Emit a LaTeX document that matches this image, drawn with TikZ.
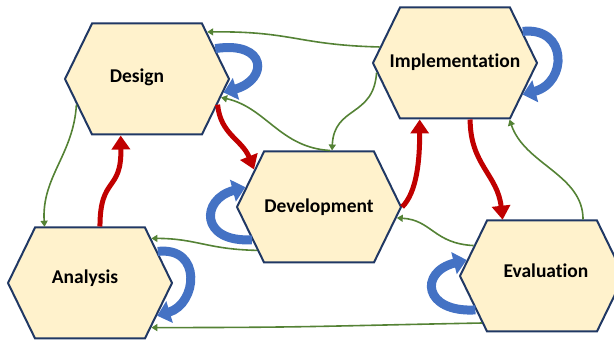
\documentclass[tikz,border=0pt]{standalone}
\usepackage{fontspec}
\setmainfont{Carlito}[Ligatures=NoCommon]
\usetikzlibrary{arrows.meta, shapes.symbols}

\definecolor{stagefill}{HTML}{FFF2CC}
\definecolor{stageborder}{HTML}{203864}
\definecolor{flowred}{HTML}{C00000}
\definecolor{feedgreen}{HTML}{548235}
\definecolor{loopblue}{HTML}{4472C4}

\begin{document}
\begin{tikzpicture}[x=1pt, y=1pt,
  stage/.style={signal, signal to=west and east, signal pointer angle=128,
    draw=stageborder, fill=stagefill, line width=2pt,
    minimum width=164pt, minimum height=111pt},
  stagename/.style={font=\bfseries\fontsize{19.5}{23}\selectfont, inner sep=0pt},
  flow/.style={line width=5pt, draw=flowred, -{Triangle[length=14pt, width=18pt]}},
  feedback/.style={line width=1.6pt, draw=feedgreen, -{Triangle[length=6pt, width=7pt]}},
  iterate/.style={line width=9pt, draw=loopblue, -{Triangle[length=13pt, width=22pt]}}
  ]
  \useasboundingbox (0,0) rectangle (614,342);

  % Stages
  \node[stage, label={[stagename, xshift=-10pt, yshift=2pt]center:Design}] (design) at (147,263) {};
  \node[stage, label={[stagename, yshift=1pt]center:Implementation}] (implementation) at (455,279) {};
  \node[stage, label={[stagename]center:Development}] (development) at (319,135) {};
  \node[stage, label={[stagename, xshift=-5pt, yshift=5pt]center:Analysis}] (analysis) at (90,59) {};
  \node[stage, label={[stagename, xshift=4pt, yshift=5pt]center:Evaluation}] (evaluation) at (542,66) {};

  % Main cycle
  \draw[flow] (analysis.80) .. controls +(0,51) and +(1,-57) .. (design.245);
  \draw[flow] (design.-20) .. controls +(3,-30) and +(-12,30) .. (development.150);
  \draw[flow] (development.east) .. controls +(15,15) and +(0,-40) .. (implementation.238);
  \draw[flow] (implementation.-75) .. controls +(0,-45) and +(-5,45) .. (evaluation.125);

  % Feedback paths
  \draw[feedback] (implementation.168) .. controls +(-82,2) and +(85,1) .. (design.38);
  \draw[feedback] (implementation.187) .. controls +(-3,-45) and +(2,45) .. (development.77);
  \draw[feedback] (development.79) .. controls +(-50,3) and +(45,-10) .. (design.-14);
  \draw[feedback] (design.200) .. controls +(-3,-50) and +(-3,50) .. (analysis.129);
  \draw[feedback] (development.215) .. controls +(-50,1) and +(45,0) .. (analysis.36);
  \draw[feedback] (evaluation.156) .. controls +(-40,2) and +(35,-2) .. (development.-8);
  \draw[feedback] (evaluation.54) .. controls +(0,45) and +(15,-45) .. (implementation.-46);
  \draw[feedback] (evaluation.218) .. controls +(-160,-3) and +(160,0) .. (analysis.-36);

  % Self iterations
  \draw[iterate] (design.24) .. controls +(52,8) and +(45,13) .. (design.-10);
  \draw[iterate] (implementation.25) .. controls +(45,5) and +(45,12) .. (implementation.-25);
  \draw[iterate] (development.206) .. controls +(-52,-3) and +(-45,-12) .. (development.165);
  \draw[iterate] (analysis.25) .. controls +(45,5) and +(40,12) .. (analysis.-26);
  \draw[iterate] (evaluation.207) .. controls +(-52,-3) and +(-48,-12) .. (evaluation.168);

\end{tikzpicture}
\end{document}
